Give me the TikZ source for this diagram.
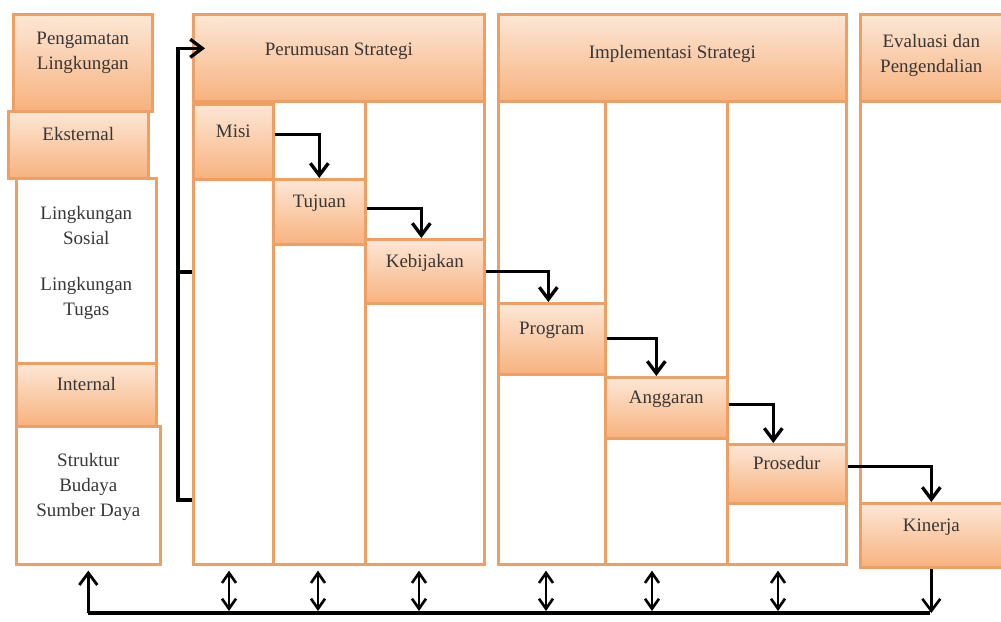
\documentclass[tikz,border=0pt]{standalone}
\usepackage{fontspec}
\setmainfont{Liberation Serif}
\usepackage{tikz}
\usetikzlibrary{arrows.meta}
\definecolor{boxtop}{RGB}{253,231,214}
\definecolor{boxbot}{RGB}{247,178,126}
\definecolor{edge}{RGB}{238,160,100}
\definecolor{txt}{RGB}{55,55,55}

\begin{document}
\begin{tikzpicture}[x=0.02cm, y=-0.02cm,
    every node/.style={anchor=north west, inner sep=0pt, text=txt, font=\fontsize{10.8}{14.2}\selectfont},
    sz/.style 2 args={minimum width=#1*0.02cm, minimum height=#2*0.02cm},
    obox/.style={draw=edge, line width=1.5pt, top color=boxtop, bottom color=boxbot, align=center, text depth=4.2mm},
    wbox/.style={draw=edge, line width=1.5pt, fill=white, align=center, text depth=4mm},
    flow/.style={line width=1.9pt, -{Straight Barb[length=2.4mm, width=3.6mm]}},
    both/.style={line width=1.5pt, {Straight Barb[length=2mm, width=2.8mm]}-{Straight Barb[length=2mm, width=2.8mm]}, shorten >=1mm},
    bus/.style={line width=2.2pt}]
    \useasboundingbox (0,0) rectangle (1001,622);

    \node[obox, sz={139}{97}, text depth=4.8mm] (peng) at (12,13) {Pengamatan\\Lingkungan};
    \node[obox, sz={140}{67}] (eks) at (7,110) {Eksternal};
    \node[wbox, sz={140}{185}] (lsos) at (15,177) {Lingkungan\\Sosial\\[4.2mm]Lingkungan\\Tugas};
    \node[obox, sz={140}{63}] (intl) at (15,362) {Internal};
    \node[wbox, sz={144}{138}] (skt) at (15,425) {Struktur\\Budaya\\Sumber Daya};

    \node[wbox, sz={80}{463}] (c1) at (192,100) {};
    \node[wbox, sz={92}{463}] (c2) at (272,100) {};
    \node[wbox, sz={119}{463}] (c3) at (364,100) {};
    \node[wbox, sz={107}{463}] (c4) at (497,100) {};
    \node[wbox, sz={122}{463}] (c5) at (604,100) {};
    \node[wbox, sz={119}{463}] (c6) at (726,100) {};
    \node[wbox, sz={142}{463}] (c7) at (859,100) {};

    \node[obox, sz={291}{87}, text depth=3.6mm] (ps) at (192,13) {Perumusan Strategi};
    \node[obox, sz={348}{87}, text depth=2.4mm] (is) at (497,13) {Implementasi Strategi};
    \node[obox, sz={142}{87}, text depth=1.6mm] (ev) at (859,13) {Evaluasi dan\\Pengendalian};

    \node[obox, sz={80}{75}] (misi) at (192,103) {Misi};
    \node[obox, sz={92}{65}] (tujuan) at (272,178) {Tujuan};
    \node[obox, sz={119}{64}] (kebijakan) at (364,238) {Kebijakan};
    \node[obox, sz={107}{71}] (program) at (497,302) {Program};
    \node[obox, sz={122}{61}] (anggaran) at (604,376) {Anggaran};
    \node[obox, sz={119}{59}] (prosedur) at (726,443) {Prosedur};
    \node[obox, sz={142}{64}] (kinerja) at (859,502) {Kinerja};

    \draw[flow] ([yshift=1.5mm]misi.east) -| (tujuan.north);
    \draw[flow] ([yshift=0.7mm]tujuan.east) -| ([xshift=-0.7mm]kebijakan.north);
    \draw[flow] (kebijakan.east) -| ([xshift=-0.7mm]program.north);
    \draw[flow] (program.east) -| ([xshift=-2mm]anggaran.north);
    \draw[flow] ([yshift=0.7mm]anggaran.east) -| ([xshift=-2.7mm]prosedur.north);
    \draw[flow] ([yshift=1.5mm]prosedur.east) -| (kinerja.north);

    \coordinate (fb) at (178,500);
    \coordinate (fm) at (178,272);
    \draw[flow] (c1.west |- fb) -- (fb) |- ([xshift=2.6mm, yshift=1.9mm]ps.west);
    \draw[line width=1.9pt] (fm) -- (c1.west |- fm);

    \coordinate (bl) at (88,613);
    \coordinate (br) at (930,613);
    \draw[bus] (bl) -- (br);
    \draw[flow, line width=1.6pt, shorten >=1mm] (skt.south |- bl) -- (skt.south);
    \draw[flow, line width=1.5pt] (kinerja.south) -- (kinerja.south |- br);
    \foreach \c/\x in {c1/229, c2/318, c3/419, c4/546, c5/652, c6/778}{
        \coordinate (b\c) at (\x,611);
        \draw[both] (b\c) -- (b\c |- \c.south);
    }
\end{tikzpicture}
\end{document}
